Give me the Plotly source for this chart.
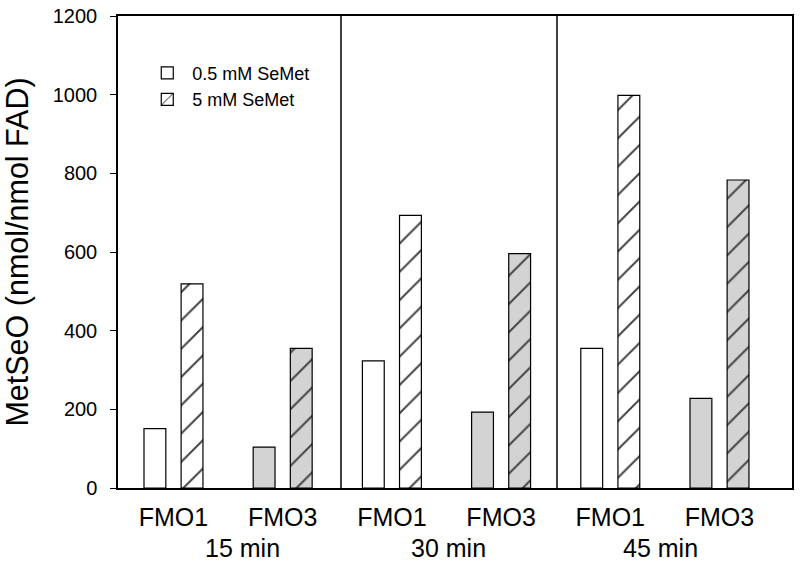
import plotly.graph_objects as go

# ---- data ----
enzymes = ["FMO1", "FMO3", "FMO1", "FMO3", "FMO1", "FMO3"]
times = ["15 min", "30 min", "45 min"]
low_semet = [151, 104, 323, 193, 355, 228]     # 0.5 mM SeMet
high_semet = [519, 355, 693, 596, 998, 783]    # 5 mM SeMet
y_ticks = [0, 200, 400, 600, 800, 1000, 1200]

FONT = "Liberation Sans, Arial, sans-serif"
GRAY = "#d3d3d3"
pos = list(range(len(enzymes)))
fills = ["white" if e == "FMO1" else GRAY for e in enzymes]

fig = go.Figure()
fig.add_trace(go.Bar(
    x=pos, y=low_semet, name="0.5 mM SeMet",
    width=0.2, offset=-0.27,
    marker=dict(color=fills, line=dict(color="black", width=1.2)),
))
fig.add_trace(go.Bar(
    x=pos, y=high_semet, name="5 mM SeMet",
    width=0.2, offset=0.07,
    marker=dict(color=fills, line=dict(color="black", width=1.2),
                pattern=dict(shape="/", size=20, solidity=0.1,
                             fgcolor="black", fgopacity=1, bgcolor=fills)),
))

# group dividers
for xd in [1.534, 3.512]:
    fig.add_shape(type="line", xref="x", yref="paper", x0=xd, x1=xd, y0=0, y1=1,
                  line=dict(color="black", width=1.5))

# time labels
for t, xc in zip(times, [0.63, 2.52, 4.46]):
    fig.add_annotation(text=t, x=xc, xref="x", y=-0.127, yref="paper",
                       showarrow=False, yanchor="middle",
                       font=dict(family=FONT, size=25, color="black"))

fig.update_layout(
    width=800, height=565,
    margin=dict(l=118, r=8, t=16, b=77, autoexpand=False),
    paper_bgcolor="white", plot_bgcolor="white",
    font=dict(family=FONT, color="black"),
    barmode="overlay",
    showlegend=True,
    legend=dict(x=0.036, y=0.918, xanchor="left", yanchor="top",
                bgcolor="rgba(0,0,0,0)", font=dict(family=FONT, size=18),
                itemwidth=40, tracegroupgap=0),
)
fig.update_xaxes(
    range=[-0.508, 5.664], tickvals=pos, ticktext=enzymes,
    showline=True, linecolor="black", linewidth=1.5, mirror=True,
    ticks="", showgrid=False, zeroline=False, automargin=False,
    tickfont=dict(family=FONT, size=25, color="black"),
    ticklabelstandoff=6,
)
fig.update_yaxes(
    range=[0, 1200], tickvals=y_ticks,
    showline=True, linecolor="black", linewidth=1.5, mirror=True,
    ticks="outside", ticklen=6, tickcolor="black", tickwidth=1,
    showgrid=False, zeroline=False, automargin=False,
    tickfont=dict(family=FONT, size=20, color="black"),
    ticklabelstandoff=9,
    title=dict(text="MetSeO (nmol/nmol FAD)", standoff=20,
               font=dict(family=FONT, size=30.5, color="black")),
)

fig.write_html("out.html", config={"displayModeBar": False},
               post_script="document.body.style.margin='0';document.body.style.overflow='hidden';")
